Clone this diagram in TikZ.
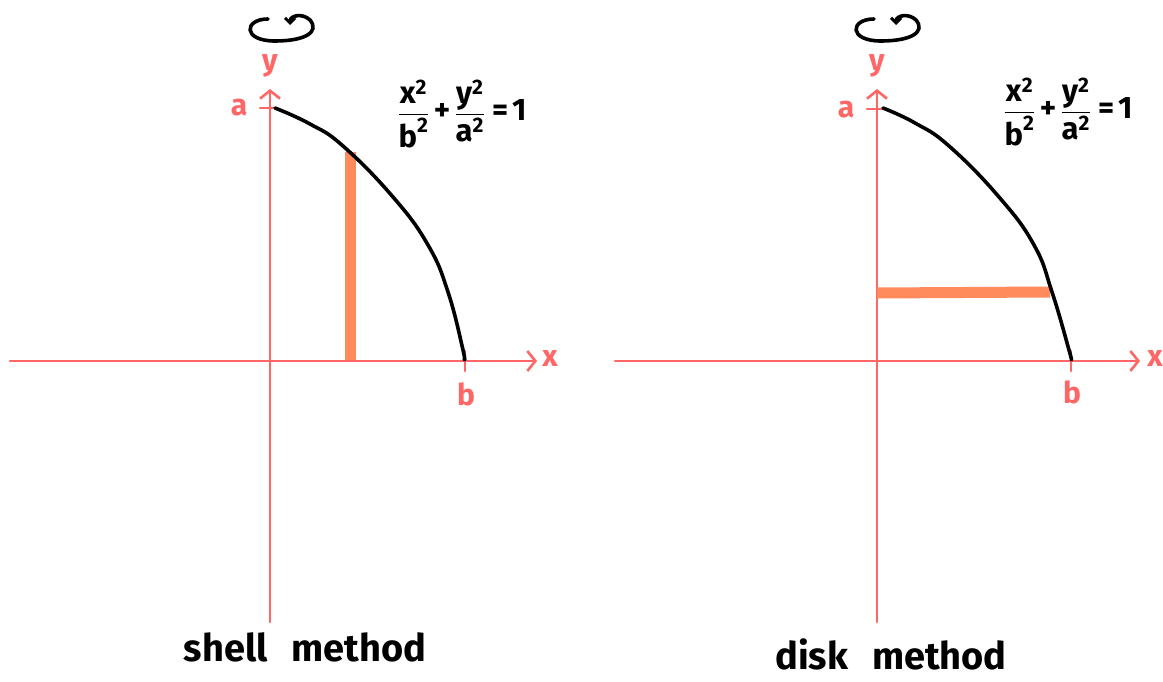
\documentclass[tikz,border=0pt]{standalone}
\usepackage{amsmath}
\usepackage{fontspec}
\setmainfont{Fira Sans}
\usetikzlibrary{arrows.meta}
\definecolor{axisred}{RGB}{255,102,102}
\definecolor{barorange}{RGB}{255,138,92}
\newcommand{\suptwo}{\text{\fontsize{21}{21}\selectfont 2}}
\newcommand{\ellipseeq}{$\dfrac{\text{x}^{\suptwo}}{\text{b}^{\suptwo}}\,\text{+}\,\dfrac{\text{y}^{\suptwo}}{\text{a}^{\suptwo}}\;\text{=}\,\text{1}$}
\begin{document}
\begin{tikzpicture}[x=1pt,y=-1pt,
  axis/.style={draw=axisred,line width=2.6pt,line cap=round},
  axisarrow/.style={axis,-{Straight Barb[length=8pt,width=20pt,line width=2.6pt]}},
  tick/.style={draw=axisred,line width=2.6pt,line cap=round},
  curve/.style={draw=black,line width=3.6pt,line cap=round,line join=round},
  bar/.style={draw=barorange,line width=11pt},
  lbl/.style={text=axisred,font=\fontsize{30}{30}\selectfont\bfseries,inner sep=0pt},
  eqn/.style={font=\fontsize{31}{33}\selectfont\bfseries,inner sep=0pt},
  title/.style={font=\fontsize{38}{40}\selectfont\bfseries,inner sep=0pt},
  rot/.style={draw=black,line width=3.6pt,line cap=round,line join=round,
    -{Straight Barb[length=5pt,width=10pt,line width=3pt]}}]
\useasboundingbox (0,0) rectangle (1163,682);

% ---------------- left panel: shell method ----------------
\coordinate (L-xs) at (10,361);
\coordinate (L-xe) at (537,361);
\coordinate (L-ys) at (270,622);
\coordinate (L-ye) at (270,89);
\draw[axisarrow] (L-xs) -- (L-xe);
\draw[axisarrow] (L-ys) -- (L-ye);
\node[lbl] (L-x) at (550,359) {x};
\node[lbl] (L-y) at (270,66) {y};
\node[lbl] (L-a) at (239,108) {a};
\node[lbl] (L-b) at (466,394) {b};
\coordinate (L-at1) at (260,108);
\coordinate (L-at2) at (276,108);
\draw[tick] (L-at1) -- (L-at2);
\coordinate (L-bt1) at (465,351);
\coordinate (L-bt2) at (465,371);
\draw[tick] (L-bt1) -- (L-bt2);
\coordinate (L-bar1) at (350,152);
\coordinate (L-bar2) at (350,360);
\draw[bar] (L-bar1) -- (L-bar2);
\draw[curve] plot[smooth,tension=0.75] coordinates
  {(275,108) (310,124) (343,146) (393,197) (428,245) (448,292) (463,350) (464,359)};
\node[eqn] (L-eq) at (462,114) {\ellipseeq};
\draw[rot] (268,19) .. controls (244,19) and (242,41) .. (275,41)
  .. controls (305,41) and (320,32) .. (310,20)
  .. controls (303,13) and (290,15) .. (290,25);
\node[title] (L-t) at (305,647) {shell\hspace{24pt}method};

% ---------------- right panel: disk method ----------------
\coordinate (R-xs) at (615,361);
\coordinate (R-xe) at (1140,361);
\coordinate (R-ys) at (877,622);
\coordinate (R-ye) at (877,89);
\draw[axisarrow] (R-xs) -- (R-xe);
\draw[axisarrow] (R-ys) -- (R-ye);
\node[lbl] (R-x) at (1155,359) {x};
\node[lbl] (R-y) at (877,66) {y};
\node[lbl] (R-a) at (846,110) {a};
\node[lbl] (R-b) at (1072,392) {b};
\coordinate (R-at1) at (867,109);
\coordinate (R-at2) at (883,109);
\draw[tick] (R-at1) -- (R-at2);
\coordinate (R-bt1) at (1071,351);
\coordinate (R-bt2) at (1071,371);
\draw[tick] (R-bt1) -- (R-bt2);
\coordinate (R-bar1) at (877,293);
\coordinate (R-bar2) at (1050,292);
\draw[bar] (R-bar1) -- (R-bar2);
\draw[curve] plot[smooth,tension=0.75] coordinates
  {(883,108) (915,123) (949,146) (999,197) (1034,245) (1052,292) (1069,350) (1071,359)};
\node[eqn] (R-eq) at (1068,112) {\ellipseeq};
\draw[rot] (874,19) .. controls (850,19) and (848,41) .. (881,41)
  .. controls (911,41) and (926,32) .. (916,20)
  .. controls (909,13) and (896,15) .. (896,25);
\node[title] (R-t) at (891,654) {disk\hspace{24pt}method};
\end{tikzpicture}
\end{document}
